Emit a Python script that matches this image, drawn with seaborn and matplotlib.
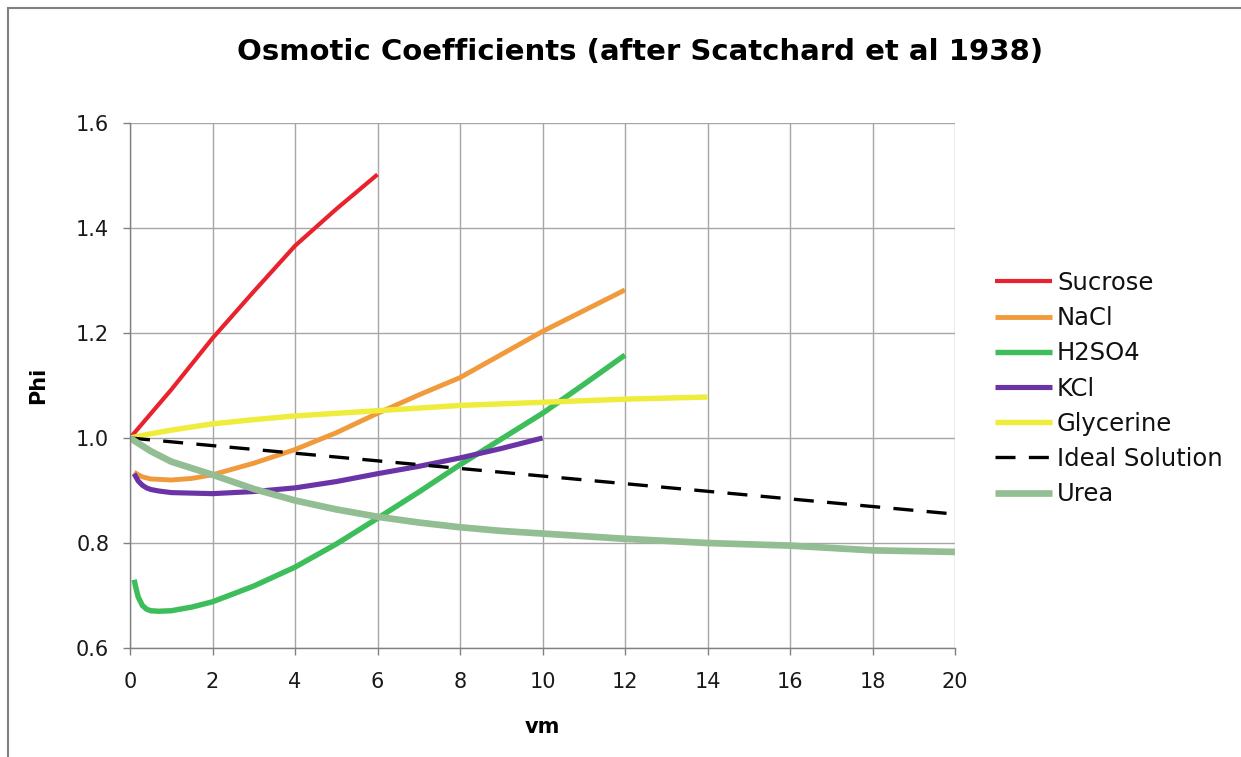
import numpy as np
import pandas as pd
import matplotlib
matplotlib.use("Agg")
import matplotlib.pyplot as plt
import seaborn as sns
from matplotlib.patches import Rectangle
from matplotlib.ticker import FormatStrFormatter

# ---- data ----
sucrose_x = [0, 1, 2, 3, 4, 5, 6]
sucrose_y = [1.0, 1.092, 1.190, 1.279, 1.366, 1.436, 1.502]

nacl_x = [0.1, 0.2, 0.3, 0.5, 0.75, 1, 1.5, 2, 3, 4, 5, 6, 7, 8, 10, 12]
nacl_y = [0.935, 0.930, 0.926, 0.922, 0.921, 0.920, 0.923, 0.930, 0.952, 0.978, 1.010, 1.047, 1.082, 1.115, 1.203, 1.282]

h2so4_x = [0.1, 0.15, 0.2, 0.3, 0.4, 0.5, 0.7, 1, 1.5, 2, 3, 4, 5, 6, 7, 8, 9, 10, 11, 12]
h2so4_y = [0.730, 0.712, 0.697, 0.681, 0.674, 0.671, 0.670, 0.671, 0.678, 0.688, 0.718, 0.754, 0.798, 0.847, 0.897, 0.949, 0.998, 1.047, 1.102, 1.158]

kcl_x = [0.1, 0.2, 0.3, 0.4, 0.5, 0.7, 1, 2, 3, 4, 5, 6, 7, 8, 9, 10]
kcl_y = [0.932, 0.918, 0.910, 0.905, 0.902, 0.899, 0.896, 0.894, 0.898, 0.905, 0.917, 0.932, 0.946, 0.962, 0.980, 1.000]

glycerine_x = [0, 0.5, 1, 2, 3, 4, 6, 8, 10, 12, 14]
glycerine_y = [1.0, 1.008, 1.015, 1.027, 1.035, 1.042, 1.052, 1.062, 1.068, 1.074, 1.078]

ideal_x = [0, 20]
ideal_y = [1.0, 0.855]

urea_x = [0, 0.5, 1, 2, 3, 4, 5, 6, 7, 8, 9, 10, 12, 14, 16, 18, 20]
urea_y = [1.0, 0.975, 0.955, 0.930, 0.903, 0.881, 0.864, 0.850, 0.839, 0.830, 0.823, 0.818, 0.808, 0.800, 0.795, 0.786, 0.783]

series_names = ["Sucrose", "NaCl", "H2SO4", "KCl", "Glycerine", "Ideal Solution", "Urea"]
series_x = [sucrose_x, nacl_x, h2so4_x, kcl_x, glycerine_x, ideal_x, urea_x]
series_y = [sucrose_y, nacl_y, h2so4_y, kcl_y, glycerine_y, ideal_y, urea_y]

x_ticks = [0, 2, 4, 6, 8, 10, 12, 14, 16, 18, 20]
y_ticks = [0.6, 0.8, 1.0, 1.2, 1.4, 1.6]

colors = ["#E8232D", "#F09A3C", "#3DBE5B", "#6B34A6", "#F0EC3C", "#000000", "#93BD93"]
widths = [3.0, 3.5, 3.9, 3.7, 3.9, 2.4, 4.8]
dash_styles = [None, None, None, None, None, (6, 4), None]

# ---- figure ----
sns.set_style("white")
plt.rcParams["font.family"] = ["DejaVu Sans"]

fig = plt.figure(figsize=(12.41, 7.57), dpi=100)
ax = fig.add_axes([130 / 1241, 1 - 648 / 757, (955 - 130) / 1241, (648 - 123) / 757])

for name, xs, ys, c, w, d in zip(series_names, series_x, series_y, colors, widths, dash_styles):
    df = pd.DataFrame({"vm": xs, "Phi": ys})
    sns.lineplot(data=df, x="vm", y="Phi", ax=ax, color=c, linewidth=w,
                 label=name, sort=False, estimator=None)
    line = ax.lines[-1]
    if d is not None:
        line.set_dashes(d)
    line.set_solid_capstyle("butt")
    line.set_solid_joinstyle("round")

ax.set_xlim(0, 20)
ax.set_ylim(0.6, 1.6)
ax.set_xticks(x_ticks)
ax.set_yticks(y_ticks)
ax.yaxis.set_major_formatter(FormatStrFormatter("%.1f"))
ax.grid(True, color="#A6A6A6", linewidth=1.0)
ax.set_axisbelow(True)
for s in ["top", "right"]:
    ax.spines[s].set_visible(False)
for s in ["left", "bottom"]:
    ax.spines[s].set_color("#808080")
    ax.spines[s].set_linewidth(1.0)
ax.tick_params(axis="both", which="both", direction="out", length=5, width=1,
               color="#808080", labelsize=15, labelcolor="#1a1a1a",
               left=True, bottom=True)
ax.tick_params(axis="y", pad=10)
ax.tick_params(axis="x", pad=12)

ax.set_xlabel("vm", fontsize=15, fontweight="bold", labelpad=18, color="black")
ax.set_ylabel("Phi", fontsize=15, fontweight="bold", labelpad=20, color="black")

fig.text(640 / 1241, 1 - 52 / 757, "Osmotic Coefficients (after Scatchard et al 1938)",
         ha="center", va="center", fontsize=21, fontweight="bold", color="black")

leg = ax.legend(loc="upper left", bbox_to_anchor=(995 / 1241, 1 - 271 / 757),
                bbox_transform=fig.transFigure, frameon=False, fontsize=17.5,
                handlelength=2.35, handletextpad=0.2, labelspacing=0.46,
                borderaxespad=0, borderpad=0)
for t in leg.get_texts():
    t.set_color("#111111")

# outer chart border
fig.patches.append(Rectangle((8 / 1241, -0.05), 1.2, 1 - 8 / 757 + 0.05,
                             transform=fig.transFigure, fill=False,
                             edgecolor="#808080", linewidth=1.5))

fig.savefig("out.png", dpi=100)
